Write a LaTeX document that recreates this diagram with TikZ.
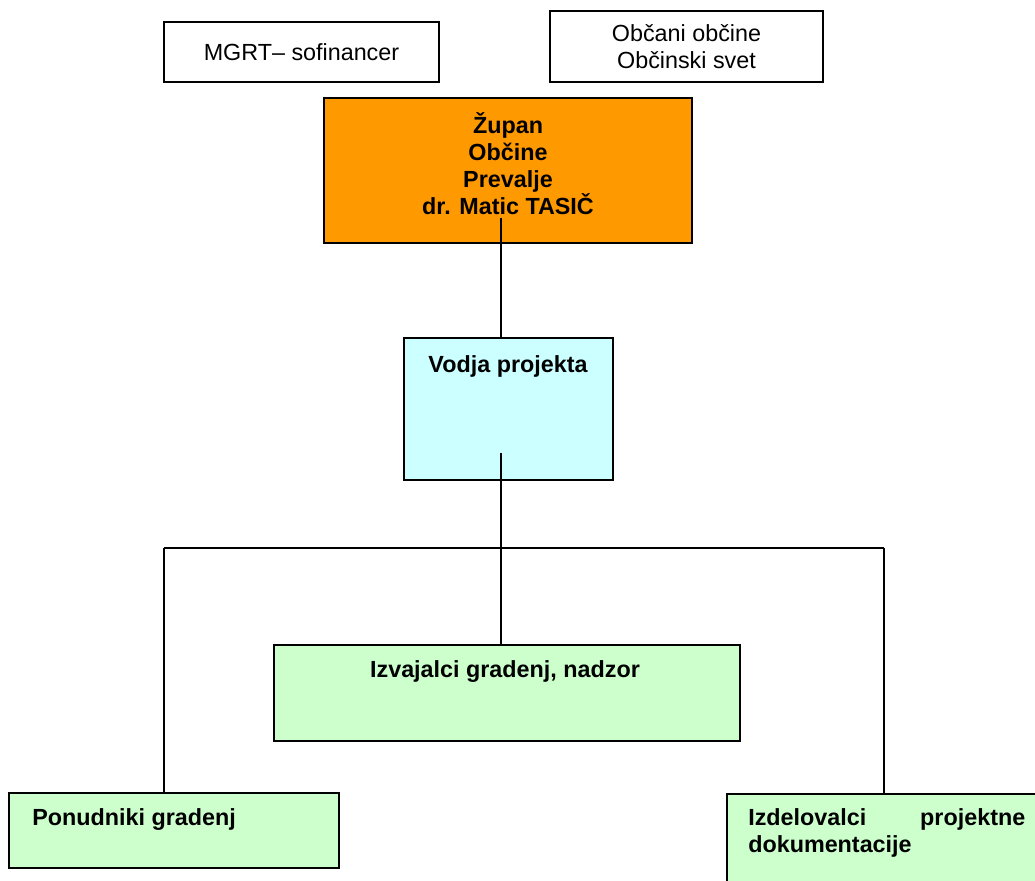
\documentclass[tikz,border=0pt]{standalone}
\usepackage{fontspec}
\setmainfont{Liberation Sans}
\usepackage{tikz}
\usetikzlibrary{calc,positioning}
\definecolor{morange}{RGB}{255,153,0}
\definecolor{mcyan}{RGB}{204,255,255}
\definecolor{mgreen}{RGB}{204,255,204}
\newcommand{\pxu}{0.75pt}

\begin{document}
\begin{tikzpicture}[x=0.75pt,y=-0.75pt]
    \tikzstyle{every node}=[font=\fontsize{17.5pt}{20.25pt}\selectfont]
    \tikzstyle{box}=[draw=black,line width=1.1pt,inner sep=0pt]
    \tikzstyle{txt}=[inner sep=0pt,font=\fontsize{17.5pt}{20.25pt}\selectfont\bfseries]

    \useasboundingbox (0,0) rectangle (1035,881);
    \clip (0,0) rectangle (1035,881);

    \node[box,minimum width=275*\pxu,minimum height=60*\pxu] (mgrt) at (301.5,52) {MGRT– sofinancer};
    \node[box,align=center,minimum width=273*\pxu,minimum height=71*\pxu] (obcani) at (686.5,46.5) {Občani občine\\Občinski svet};
    \node[box,fill=morange,minimum width=368*\pxu,minimum height=145*\pxu] (zupan) at (508,170.5) {};
    \node[txt,align=center,anchor=north] (zupantxt) at (508,112) {Župan\\Občine\\Prevalje\\dr. Matic TASIČ};
    \node[box,fill=mcyan,minimum width=209*\pxu,minimum height=142*\pxu] (vodja) at (508.5,409) {};
    \node[txt,anchor=base] (vodjatxt) at (508,372) {Vodja projekta};
    \node[box,fill=mgreen,minimum width=466*\pxu,minimum height=96*\pxu] (izv) at (507,693) {};
    \node[txt,anchor=base] (izvtxt) at (505,677) {Izvajalci gradenj, nadzor};
    \node[box,fill=mgreen,minimum width=330*\pxu,minimum height=75*\pxu] (ponud) at (174,830.5) {};
    \node[txt,anchor=base west] (ponudtxt) at (32,825) {Ponudniki gradenj};
    \node[box,fill=mgreen,minimum width=318*\pxu,minimum height=101*\pxu] (izdel) at (886,844.5) {};
    \node[txt,anchor=north west,text width=207.75pt,align=left] (izdeltxt) at (748,808) {Izdelovalci\hspace{0pt plus 1filll}projektne\\dokumentacije};

    \coordinate (zstub) at (501,218);
    \coordinate (vstub) at (501,453);
    \coordinate (busl) at (164,548);
    \coordinate (busr) at (884,548);

    \path[line width=1.1pt]
    (zstub) edge (zstub |- vodja.north)
    (vstub) edge (vstub |- izv.north)
    (busl) edge (busr)
    (busl) edge (busl |- ponud.north)
    (busr) edge (busr |- izdel.north);
\end{tikzpicture}
\end{document}
